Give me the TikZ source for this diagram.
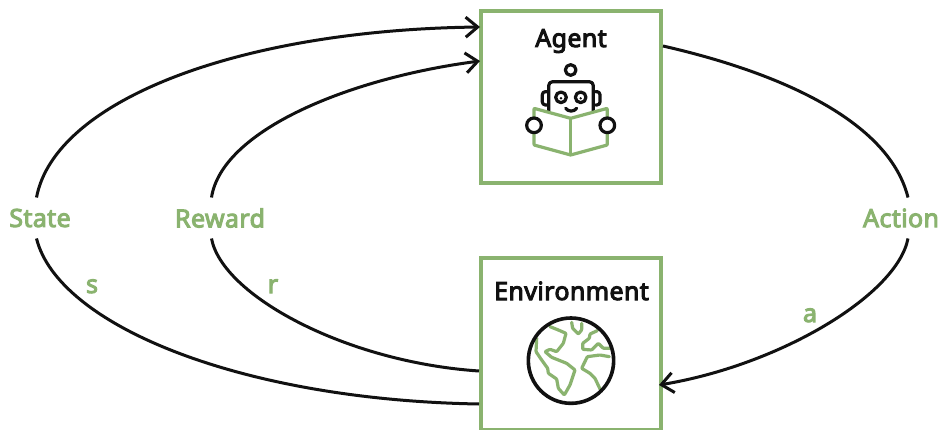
\documentclass[tikz,border=0pt]{standalone}
\usepackage{fontspec}
\setmainfont{Noto Sans}[FakeBold=4,LetterSpace=1.5]
\usetikzlibrary{arrows.meta,calc}
\definecolor{lgreen}{HTML}{8AB36F}
\definecolor{ink}{HTML}{111111}
\tikzset{
  panel/.style={draw=lgreen,line width=4pt,fill=white,minimum width=180pt,minimum height=172pt,outer sep=0pt,inner sep=0pt},
  title/.style={font=\fontsize{25}{28}\selectfont,text=ink,inner sep=0pt,anchor=base},
  flowlabel/.style={font=\fontsize{25}{28}\selectfont,text=lgreen,inner sep=0pt,minimum height=41pt,outer sep=0pt},
  varlabel/.style={font=\fontsize{25}{28}\selectfont,text=lgreen,inner sep=0pt,anchor=base},
  flow/.style={draw=ink,line width=3pt},
  tip/.style={flow,-{Straight Barb[length=12pt,width=20pt,line width=3pt]}},
  inkline/.style={draw=ink,line width=3.2pt,line join=round,line cap=round},
  greenline/.style={draw=lgreen,line width=3.2pt,line join=round,line cap=round,rounded corners=0.8pt},
}
\begin{document}
\begin{tikzpicture}[x=1pt,y=-1pt]
\useasboundingbox (0,0) rectangle (939,430);
\node[panel] (agent) at (571,97) {};
\node[panel] (env) at (571,344) {};
\node[title] (agenttitle) at (571,47) {Agent};
\node[title] (envtitle) at (571.5,300) {Environment};
\node[flowlabel] (state) at (40,218) {State};
\node[flowlabel] (reward) at (220,218) {Reward};
\node[flowlabel] (action) at (901,218) {Action};
\node[varlabel] (s) at (92,293) {s};
\node[varlabel] (r) at (273,293) {r};
\node[varlabel] (a) at (810,322) {a};
% connectors
\draw[flow] ($(env.north west)+(-2,146)$) .. controls (240,400) and (58,325) .. ([xshift=-3.5pt]state.south);
\draw[tip] ([xshift=-3.5pt]state.north) .. controls (55,100) and (240,30) .. ($(agent.north west)+(-1,16)$);
\draw[flow] ($(env.north west)+(-2,113)$) .. controls (345,362) and (222,295) .. ([xshift=-8.5pt]reward.south);
\draw[tip] ([xshift=-8.5pt]reward.north) .. controls (222,130) and (350,78) .. ($(agent.north west)+(-1,50)$);
\draw[flow] ($(agent.north east)+(2,35)$) .. controls (790,75) and (890,125) .. ([xshift=7pt]action.north);
\draw[tip] ([xshift=7pt]action.south) .. controls (897,295) and (780,365) .. ($(env.north east)+(-2,127)$);
% robot
\begin{scope}[shift={(500,50)},x=0.3333pt,y=-0.3333pt]
  \draw[inkline] (212,60) circle[radius=16];
  \draw[inkline,rounded corners=4pt] (146,185) -- (146,95) -- (280,95) -- (280,185);
  \draw[inkline,rounded corners=3pt] (140,125) -- (127,125) -- (127,165) -- (140,165);
  \draw[inkline,rounded corners=3pt] (287,125) -- (300,125) -- (300,165) -- (287,165);
  \draw[inkline] (183,142) circle[radius=16];
  \draw[inkline] (242,142) circle[radius=16];
  \fill[ink] (183,145) circle[radius=4];
  \fill[ink] (242,145) circle[radius=4];
  \draw[greenline,fill=white] (102,175) -- (212,205) -- (322,175) -- (322,285) -- (212,315) -- (102,285) -- cycle;
  \draw[greenline] (212,205) -- (212,315);
  \draw[inkline] (197,175) .. controls (205,186) and (222,186) .. (230,175);
  \draw[inkline,fill=white] (102,226) circle[radius=22];
  \draw[inkline,fill=white] (322,226) circle[radius=22];
\end{scope}
% globe
\begin{scope}[shift={(510,310)},x=0.3333pt,y=-0.3333pt]
  \draw[greenline] (80,85) -- (78,125) -- (95,150) -- (113,175) -- (115,190) -- (140,207) -- (145,235) -- (163,255) -- (180,225) -- (195,180) -- (170,160) -- (145,150) -- (125,142) -- (105,125) -- (120,118) -- (140,125) -- (160,100) -- (168,70) -- (145,60) -- (120,50);
  \draw[greenline] (185,37) -- (188,55) -- (205,72) -- (215,60) -- (215,40);
  \draw[greenline] (262,62) -- (240,72) -- (238,85) -- (218,100) -- (218,118) -- (245,120) -- (265,100) -- (280,115) -- (300,115);
  \draw[greenline] (298,140) -- (270,135) -- (232,140) -- (215,175) -- (240,190) -- (255,205) -- (270,237);
  \draw[draw=ink,line width=3.6pt] (183,152) circle[radius=128];
\end{scope}
\end{tikzpicture}
\end{document}
